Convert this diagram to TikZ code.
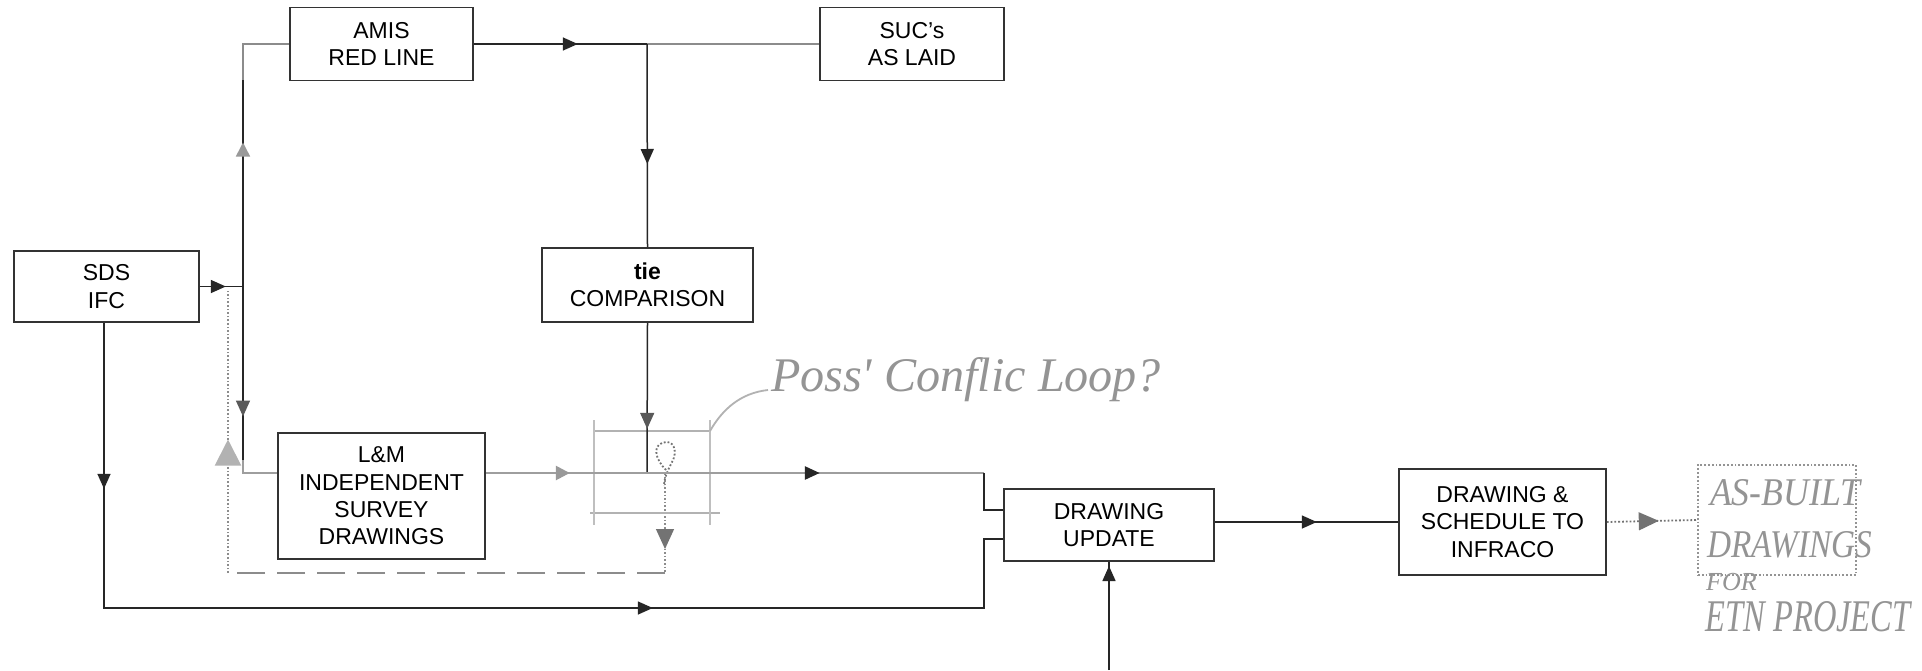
\documentclass[tikz,border=0pt]{standalone}
\usepackage{fontspec}
\setmainfont{Liberation Sans}
\newfontfamily\handfont{Liberation Serif}
\usepackage{graphicx}
\usetikzlibrary{arrows.meta,decorations.markings}
\begin{document}
\begin{tikzpicture}[x=1pt,y=-1pt,
  box/.style={draw=black!80,line width=1.6pt,fill=white,inner sep=0pt,align=center,
    font=\fontsize{23}{27.3}\selectfont},
  dk/.style={draw=black!85,line width=1.5pt},
  gl/.style={draw=black!38,line width=2.6pt},
  lg/.style={draw=black!45,line width=1.6pt},
  arr/.style={postaction={decorate,decoration={markings,mark=at position #1 with {\arrow[black!85]{Triangle[length=15pt,width=13pt]}}}}},
  harr/.style={postaction={decorate,decoration={markings,mark=at position #1 with {\arrow[black!65]{Triangle[length=16pt,width=14pt]}}}}},
  garr/.style={postaction={decorate,decoration={markings,mark=at position #1 with {\arrow[black!40]{Triangle[length=14pt,width=14pt]}}}}},
  bgarr/.style={postaction={decorate,decoration={markings,mark=at position #1 with {\arrow[black!30]{Triangle[length=26pt,width=26pt]}}}}},
  oarr/.style={postaction={decorate,decoration={markings,mark=at position #1 with {\arrow[black!55,solid,line width=1.2pt,fill=black!25]{Triangle[length=20pt,width=18pt]}}}}},
  hand/.style={text=black!42,inner sep=0pt}
]
\useasboundingbox (0,0) rectangle (1922,670);
\fill[white] (0,0) rectangle (1922,670);

% boxes
\node[box,minimum width=185pt,minimum height=71pt] (sds) at (106.5,286.5) {SDS\\IFC};
\node[box,minimum width=183pt,minimum height=73pt] (amis) at (381.5,44) {AMIS\\RED LINE};
\node[box,minimum width=184pt,minimum height=73pt] (suc) at (912,44) {SUC’s\\AS LAID};
\node[box,minimum width=211pt,minimum height=74pt] (tie) at (647.5,285) {\textbf{tie}\\COMPARISON};
\node[box,minimum width=207pt,minimum height=126pt] (lm) at (381.5,496) {L\&M\\INDEPENDENT\\SURVEY\\DRAWINGS};
\node[box,minimum width=210pt,minimum height=72pt] (du) at (1109,525) {DRAWING\\UPDATE};
\node[box,minimum width=207pt,minimum height=106pt] (ds) at (1502.5,522) {DRAWING \&\\SCHEDULE TO\\INFRACO};

% junction coordinates
\coordinate (j1) at (243,286.5);
\coordinate (j2) at (243,473);
\coordinate (jt) at (647,44);
\coordinate (tj) at (647,473);
\coordinate (k1) at (984,473);
\coordinate (k2) at (984,510);
\coordinate (k3) at (104,608);
\coordinate (k4) at (984,608);
\coordinate (k5) at (984,539);
\coordinate (bot) at (1109,670);
\coordinate (f1) at (665,473);
\coordinate (f2) at (665,573);
\coordinate (f3) at (228,573);
\coordinate (f4) at (228,289);

% gray feedback loop (dashed)
\draw[lg,dotted,line width=2pt,oarr=76pt] (f1) -- (f2);
\draw[lg,dashed,dash pattern=on 28pt off 12pt] (f2) -- (f3);
\draw[lg,dotted,line width=2pt,bgarr=0.47] (f3) -- (f4);

% possible conflict loop box
\draw[draw=black!30,line width=2.4pt] (594,431) -- (710,431);
\draw[draw=black!30,line width=2.4pt] (590,513) -- (720,513);
\draw[draw=black!25,line width=1.6pt] (594,420) -- (594,525);
\draw[draw=black!25,line width=1.6pt] (710,420) -- (710,525);
\draw[draw=black!55,dotted,line width=1.8pt] (666,470) .. controls (656,460) and (652,447) .. (662,443) .. controls (674,438) and (678,452) .. (672,462) .. controls (668,470) and (664,478) .. (664,486);
\draw[draw=black!30,line width=1.8pt] (710,431) .. controls (722,410) and (740,393) .. (768,390);

% connectors
\draw[dk,arr=26pt] (sds.east |- j1) -- (j1);
\draw[lg] (amis.west) -- (243,44) -- (243,80);
\draw[dk,garr=144pt] (j1) -- (243,80);
\draw[dk,harr=130pt] (j1) -- (243,460);
\draw[gl] (243,460) -- (j2) -- (j2 -| lm.west);
\draw[dk,arr=104pt] (amis.east) -- (jt);
\draw[lg] (suc.west) -- (jt);
\draw[dk,arr=120pt] (jt) -- (tie.north);
\draw[dk,harr=106pt] (tie.south) -- (tj) -- (632,473);
\draw[gl,garr=84pt,arr=334pt] (j2 -| lm.east) -- (k1);
\draw[dk] (k1) -- (k2) -- (k2 -| du.west);
\draw[dk,arr=166pt,arr=834pt] (sds.south -| k3) -- (k3) -- (k4) -- (k5) -- (k5 -| du.west);
\draw[dk,arr=104pt] (bot) -- (du.south);
\draw[dk,arr=102pt] (du.east |- ds.west) -- (ds.west);

% handwritten annotations
\node[draw=black!42,dotted,line width=1.8pt,minimum width=158pt,minimum height=110pt,inner sep=0pt] (asb) at (1777,520) {};
\draw[draw=black!55,dotted,line width=1.8pt,oarr=52pt] (ds.east) -- (asb.west);
\node[hand] (n1) at (966,380) {\resizebox{390pt}{34pt}{\handfont\itshape\fontsize{40}{40}\selectfont Poss' Conflic Loop?}};
\node[hand] (n2) at (1785,493) {\resizebox{150pt}{26pt}{\handfont\itshape\fontsize{30}{30}\selectfont AS-BUILT}};
\node[hand] (n3) at (1790,545) {\resizebox{165pt}{26pt}{\handfont\itshape\fontsize{30}{30}\selectfont DRAWINGS}};
\node[hand,anchor=west] (n4) at (1706,582) {\handfont\itshape\fontsize{26}{26}\selectfont FOR};
\node[hand] (n5) at (1808,617) {\resizebox{205pt}{30pt}{\handfont\itshape\fontsize{30}{30}\selectfont ETN PROJECT}};
\end{tikzpicture}
\end{document}
